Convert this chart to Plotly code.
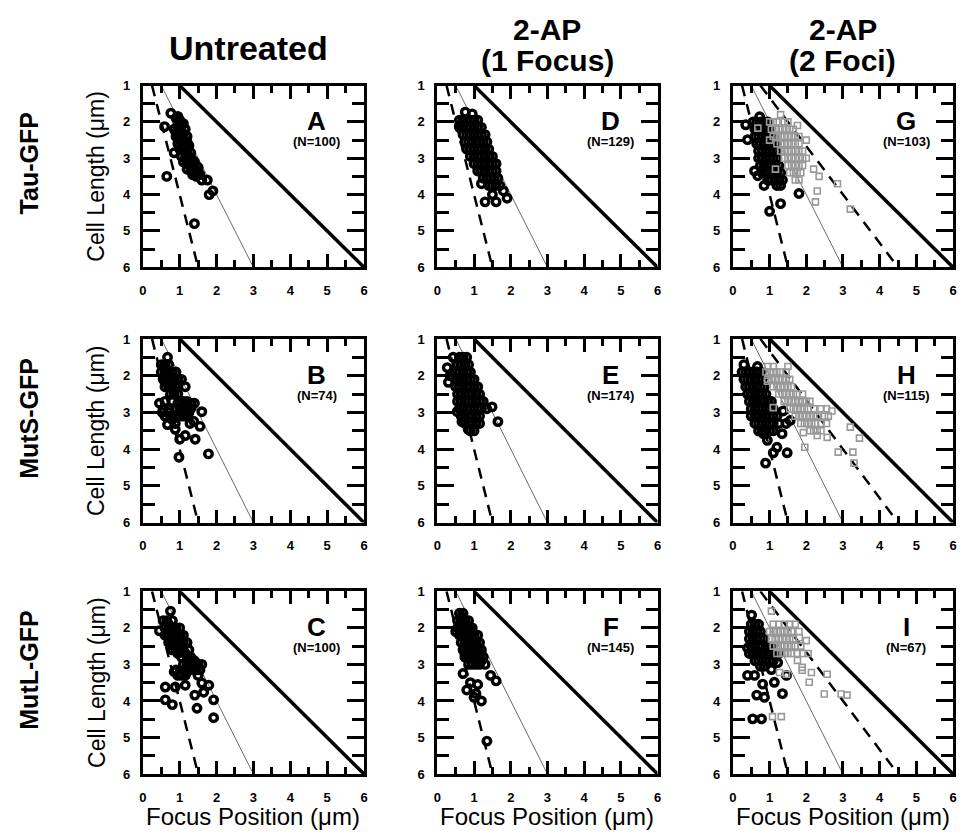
import plotly.graph_objects as go

# ---------------- data ----------------
conditions = ["Untreated", "2-AP", "2-AP"]
condition_sub = ["", "(1 Focus)", "(2 Foci)"]
strains = ["Tau-GFP", "MutS-GFP", "MutL-GFP"]
panel_letters = [["A", "D", "G"], ["B", "E", "H"], ["C", "F", "I"]]
panel_n = [[100, 129, 103], [74, 174, 115], [100, 145, 67]]

x_ticks = [0, 1, 2, 3, 4, 5, 6]
y_ticks = [1, 2, 3, 4, 5, 6]

# model lines: focus position = fraction * cell length
line_cell_length = [1, 6]
pole_fraction = 1.0
mid_fraction = 0.5
quarter_fractions_one = [0.25]
quarter_fractions_two = [0.25, 0.75]

# (focus position um, cell length um)
tau_untreated = [
    (0.76, 1.76), (0.59, 2.13), (0.9, 1.9), (1.0, 1.95), (1.1, 2.05), (0.85, 2.2), (0.95, 2.15),
    (1.05, 2.25), (1.15, 2.2), (0.9, 2.4), (1.0, 2.35), (1.1, 2.45), (1.2, 2.4), (0.95, 2.6),
    (1.05, 2.55), (1.15, 2.6), (1.25, 2.65), (1.0, 2.75), (1.1, 2.8), (1.2, 2.75), (1.3, 2.85),
    (0.85, 2.85), (1.05, 2.95), (1.15, 3.0), (1.25, 2.95), (1.35, 3.05), (1.1, 3.1), (1.2, 3.15),
    (1.3, 3.2), (1.4, 3.1), (1.2, 3.3), (1.3, 3.35), (1.4, 3.3), (1.5, 3.25), (1.35, 3.45),
    (1.45, 3.5), (1.55, 3.45), (1.6, 3.6), (1.75, 3.6), (1.9, 3.9), (1.8, 4.0), (0.65, 3.5),
    (1.4, 4.8), (0.95, 2.05), (1.2, 2.55),
    (0.95, 1.85), (1.05, 2.1), (0.9, 2.3), (1.0, 2.5), (1.1, 2.55), (1.15, 2.7), (1.2, 2.9),
    (1.3, 3.0), (1.25, 3.1), (1.35, 3.25), (1.45, 3.4), (1.5, 3.35), (1.1, 2.35), (1.2, 2.65),
    (1.05, 2.65),
]
tau_one_focus = [
    (0.76, 1.73), (0.95, 1.78), (0.6, 1.95), (0.7, 1.95), (0.8, 1.95), (0.9, 1.95), (1.0, 1.95),
    (1.1, 1.95), (0.6, 2.15), (0.7, 2.15), (0.8, 2.15), (0.9, 2.15), (1.0, 2.15), (1.1, 2.15),
    (1.2, 2.15), (0.7, 2.35), (0.8, 2.35), (0.9, 2.35), (1.0, 2.35), (1.1, 2.35), (1.2, 2.35),
    (1.3, 2.35), (0.75, 2.55), (0.85, 2.55), (0.95, 2.55), (1.05, 2.55), (1.15, 2.55), (1.25, 2.55),
    (1.35, 2.55), (0.8, 2.75), (0.9, 2.75), (1.0, 2.75), (1.1, 2.75), (1.2, 2.75), (1.3, 2.75),
    (1.4, 2.75), (0.9, 2.95), (1.0, 2.95), (1.1, 2.95), (1.2, 2.95), (1.3, 2.95), (1.4, 2.95),
    (1.5, 2.95), (1.0, 3.15), (1.1, 3.15), (1.2, 3.15), (1.3, 3.15), (1.4, 3.15), (1.5, 3.15),
    (1.6, 3.15), (1.1, 3.35), (1.2, 3.35), (1.3, 3.35), (1.4, 3.35), (1.5, 3.35), (1.6, 3.35),
    (1.25, 3.55), (1.35, 3.55), (1.45, 3.55), (1.55, 3.55), (1.65, 3.55), (1.4, 3.75), (1.5, 3.75),
    (1.6, 3.75), (1.7, 3.75), (1.3, 4.2), (1.6, 4.2), (1.9, 4.1), (1.8, 3.9), (1.2, 3.7),
    (0.6, 2.1), (1.5, 4.0),
]
tau_two_foci_first = [
    (0.73, 1.86), (0.35, 2.08), (0.4, 2.49), (0.59, 3.35), (0.68, 3.48), (0.85, 3.75), (1.0, 4.46),
    (1.3, 4.25), (1.8, 3.97),
    (0.55, 2.0), (0.65, 2.0), (0.75, 2.0), (0.85, 2.0), (0.95, 2.0),
    (0.6, 2.2), (0.7, 2.2), (0.8, 2.2), (0.9, 2.2), (1.0, 2.2),
    (0.6, 2.4), (0.7, 2.4), (0.8, 2.4), (0.9, 2.4), (1.0, 2.4), (1.1, 2.4),
    (0.65, 2.6), (0.75, 2.6), (0.85, 2.6), (0.95, 2.6), (1.05, 2.6), (1.15, 2.6),
    (0.7, 2.8), (0.8, 2.8), (0.9, 2.8), (1.0, 2.8), (1.1, 2.8), (1.2, 2.8),
    (0.7, 3.0), (0.8, 3.0), (0.9, 3.0), (1.0, 3.0), (1.1, 3.0), (1.2, 3.0),
    (0.75, 3.2), (0.85, 3.2), (0.95, 3.2), (1.05, 3.2), (1.15, 3.2), (1.25, 3.2),
    (0.8, 3.4), (0.9, 3.4), (1.0, 3.4), (1.1, 3.4), (1.2, 3.4), (1.3, 3.4),
    (0.95, 3.6), (1.05, 3.6), (1.15, 3.6), (1.25, 3.6), (1.35, 3.6), (1.2, 3.75), (1.3, 3.75),
]
tau_two_foci_second = [
    (1.3, 1.8), (1.0, 2.0), (1.1, 2.0), (1.2, 2.0), (1.4, 2.0), (1.5, 2.0), (1.76, 2.1),
    (1.05, 2.2), (1.15, 2.2), (1.25, 2.2), (1.35, 2.2), (1.45, 2.2), (1.55, 2.2), (1.65, 2.2),
    (1.1, 2.4), (1.2, 2.4), (1.3, 2.4), (1.4, 2.4), (1.5, 2.4), (1.6, 2.4), (1.7, 2.4), (1.8, 2.4),
    (1.2, 2.6), (1.3, 2.6), (1.4, 2.6), (1.5, 2.6), (1.6, 2.6), (1.7, 2.6), (1.8, 2.6), (2.0, 2.5),
    (1.3, 2.8), (1.4, 2.8), (1.5, 2.8), (1.6, 2.8), (1.7, 2.8), (1.8, 2.8), (1.9, 2.8),
    (1.4, 3.0), (1.5, 3.0), (1.6, 3.0), (1.7, 3.0), (1.8, 3.0), (1.9, 3.0), (2.0, 3.0),
    (1.5, 3.2), (1.6, 3.2), (1.7, 3.2), (1.8, 3.2), (1.9, 3.2), (2.2, 3.3),
    (1.55, 3.4), (1.65, 3.4), (1.75, 3.4), (1.85, 3.4), (2.35, 3.5), (1.7, 3.6), (1.8, 3.6),
    (2.85, 3.7), (0.68, 2.17), (1.0, 2.5), (1.16, 3.3), (2.3, 3.9), (2.25, 4.2), (3.2, 4.4),
]
muts_untreated = [
    (0.67, 1.5), (0.5, 1.7), (0.6, 1.7), (0.7, 1.7), (0.5, 1.9), (0.6, 1.9), (0.7, 1.9), (0.8, 1.9),
    (0.9, 1.9), (0.55, 2.1), (0.65, 2.1), (0.75, 2.1), (0.85, 2.1), (0.95, 2.1), (1.05, 2.1),
    (0.6, 2.3), (0.7, 2.3), (0.8, 2.3), (0.9, 2.3), (1.15, 2.3), (0.75, 2.5), (0.85, 2.5), (0.95, 2.5),
    (0.45, 2.75), (0.6, 2.7), (0.8, 2.7), (1.0, 2.7), (1.1, 2.7), (1.2, 2.7), (1.3, 2.75), (1.4, 2.75),
    (0.55, 2.9), (0.7, 2.9), (0.9, 2.9), (1.0, 2.9), (1.1, 2.9), (1.2, 2.9), (1.3, 2.9), (1.6, 2.98),
    (0.6, 3.1), (0.75, 3.1), (1.0, 3.1), (1.1, 3.1), (1.2, 3.1), (0.67, 3.33), (0.88, 3.3),
    (1.28, 3.3), (1.38, 3.24), (1.55, 3.38), (0.53, 3.0), (0.88, 3.46), (1.0, 3.73), (1.42, 3.73),
    (0.98, 4.22), (1.78, 4.13), (1.15, 3.63),
    (0.6, 1.8), (0.75, 2.0), (0.7, 2.2), (0.85, 2.4), (0.95, 2.75), (1.15, 2.8), (1.05, 3.0),
    (0.7, 3.0), (0.8, 3.2), (1.25, 3.0),
]
muts_one_focus = [
    (0.43, 1.5), (0.6, 1.5), (0.7, 1.5), (0.8, 1.5), (0.55, 1.7), (0.65, 1.7), (0.75, 1.7), (0.85, 1.7),
    (0.5, 1.9), (0.6, 1.9), (0.7, 1.9), (0.8, 1.9), (0.9, 1.9),
    (0.5, 2.1), (0.6, 2.1), (0.7, 2.1), (0.8, 2.1), (0.9, 2.1), (1.0, 2.1),
    (0.5, 2.3), (0.6, 2.3), (0.7, 2.3), (0.8, 2.3), (0.9, 2.3), (1.0, 2.3), (1.1, 2.3),
    (0.55, 2.5), (0.65, 2.5), (0.75, 2.5), (0.85, 2.5), (0.95, 2.5), (1.05, 2.5), (1.15, 2.5),
    (0.55, 2.7), (0.65, 2.7), (0.75, 2.7), (0.85, 2.7), (0.95, 2.7), (1.05, 2.7), (1.15, 2.7), (1.25, 2.7),
    (0.6, 2.9), (0.7, 2.9), (0.8, 2.9), (0.9, 2.9), (1.0, 2.9), (1.1, 2.9), (1.2, 2.9), (1.35, 2.9),
    (0.65, 3.1), (0.75, 3.1), (0.85, 3.1), (0.95, 3.1), (1.05, 3.1), (1.15, 3.1),
    (0.75, 3.3), (0.85, 3.3), (0.95, 3.3), (1.05, 3.3), (1.15, 3.3), (0.9, 3.5), (1.0, 3.5),
    (0.27, 1.78), (0.3, 2.18), (0.54, 2.98), (0.67, 3.25), (0.84, 3.46), (1.65, 3.25), (1.49, 2.85),
    (0.35, 2.0),
]
muts_two_foci_first = [
    (0.3, 1.7), (0.67, 1.75), (0.25, 1.9), (0.35, 1.9), (0.45, 1.9), (0.55, 1.9), (0.65, 1.9), (0.75, 1.9),
    (0.3, 2.1), (0.4, 2.1), (0.5, 2.1), (0.6, 2.1), (0.7, 2.1), (0.8, 2.1),
    (0.35, 2.3), (0.45, 2.3), (0.55, 2.3), (0.65, 2.3), (0.75, 2.3), (0.85, 2.3),
    (0.4, 2.5), (0.5, 2.5), (0.6, 2.5), (0.7, 2.5), (0.8, 2.5), (0.9, 2.5),
    (0.45, 2.7), (0.55, 2.7), (0.65, 2.7), (0.75, 2.7), (0.85, 2.7), (0.95, 2.7), (1.05, 2.7),
    (0.5, 2.9), (0.6, 2.9), (0.7, 2.9), (0.8, 2.9), (0.9, 2.9), (1.0, 2.9), (1.1, 2.9),
    (0.5, 3.1), (0.6, 3.1), (0.7, 3.1), (0.8, 3.1), (0.9, 3.1), (1.0, 3.1), (1.1, 3.1), (1.2, 3.1),
    (0.6, 3.3), (0.7, 3.3), (0.8, 3.3), (0.9, 3.3), (1.0, 3.3), (1.1, 3.3), (1.25, 3.3), (1.45, 3.3),
    (0.7, 3.5), (0.8, 3.5), (0.9, 3.5), (1.0, 3.5), (1.1, 3.5),
    (0.83, 3.58), (0.94, 3.76), (1.34, 3.58), (1.2, 3.95), (1.1, 4.1), (1.48, 4.1), (0.89, 4.38),
    (1.56, 3.22), (1.37, 2.96),
]
muts_two_foci_second = [
    (0.95, 1.75), (1.1, 1.75), (1.5, 1.75), (0.9, 1.9), (1.0, 1.9), (1.1, 1.9), (1.2, 1.9), (1.3, 1.9),
    (1.45, 1.9), (0.95, 2.1), (1.05, 2.1), (1.15, 2.1), (1.25, 2.1), (1.35, 2.1), (1.45, 2.1), (1.55, 2.1),
    (1.1, 2.3), (1.2, 2.3), (1.3, 2.3), (1.4, 2.3), (1.5, 2.3), (1.6, 2.3),
    (1.25, 2.5), (1.35, 2.5), (1.45, 2.5), (1.55, 2.5), (1.65, 2.5), (1.75, 2.5), (1.9, 2.5),
    (1.4, 2.7), (1.5, 2.7), (1.6, 2.7), (1.7, 2.7), (1.8, 2.7), (1.9, 2.7), (2.0, 2.7), (2.1, 2.7),
    (1.55, 2.9), (1.65, 2.9), (1.75, 2.9), (1.85, 2.9), (1.95, 2.9), (2.05, 2.9), (2.2, 2.9), (2.4, 2.9),
    (2.55, 2.9), (1.7, 3.1), (1.8, 3.1), (1.9, 3.1), (2.0, 3.1), (2.1, 3.1), (2.2, 3.1), (2.3, 3.1),
    (2.5, 3.1), (2.6, 3.1), (1.85, 3.3), (1.95, 3.3), (2.05, 3.3), (2.15, 3.3), (2.25, 3.3), (2.4, 3.3),
    (2.55, 3.3), (2.1, 3.5), (2.2, 3.5), (2.3, 3.5), (2.4, 3.5),
    (0.94, 2.15), (1.1, 2.87), (1.92, 3.55), (2.3, 3.63), (2.57, 3.68), (1.96, 3.95), (2.87, 4.08),
    (3.2, 3.4), (3.45, 3.7), (3.27, 4.08), (3.3, 4.38), (2.7, 2.96),
]
mutl_untreated = [
    (0.75, 1.54), (0.45, 2.08), (0.55, 1.8), (0.65, 1.8), (0.8, 1.8),
    (0.6, 2.0), (0.7, 2.0), (0.8, 2.0), (0.9, 2.0), (1.0, 2.0),
    (0.6, 2.2), (0.7, 2.2), (0.8, 2.2), (0.9, 2.2), (1.0, 2.2), (1.1, 2.2),
    (0.7, 2.4), (0.8, 2.4), (0.9, 2.4), (1.0, 2.4), (1.1, 2.4), (1.2, 2.4),
    (0.8, 2.6), (0.9, 2.6), (1.0, 2.6), (1.1, 2.6), (1.25, 2.6), (1.05, 2.8), (1.2, 2.8), (1.3, 2.8),
    (1.1, 3.0), (1.2, 3.0), (1.3, 3.0), (1.4, 3.0), (1.5, 3.0), (1.6, 3.0),
    (0.9, 3.15), (1.35, 3.15), (1.45, 3.15), (1.55, 3.15), (0.95, 3.3), (1.05, 3.3), (1.15, 3.3), (1.5, 3.3),
    (0.61, 3.62), (0.88, 3.62), (0.61, 3.97), (0.8, 4.1), (1.15, 3.57), (1.41, 3.84), (1.47, 4.2),
    (1.65, 3.76), (1.6, 3.51), (1.79, 3.57), (1.92, 3.97), (1.92, 4.46), (0.85, 3.2),
    (0.7, 1.9), (0.85, 2.1), (0.75, 2.3), (0.95, 2.3), (0.85, 2.5), (1.05, 2.5), (1.15, 2.7),
    (0.95, 2.7), (1.25, 2.9), (1.4, 2.9), (1.3, 3.1), (1.45, 3.05), (1.0, 3.25), (1.2, 3.2),
]
mutl_one_focus = [
    (0.6, 1.6), (0.7, 1.6), (0.55, 1.8), (0.65, 1.8), (0.75, 1.8), (0.85, 1.8),
    (0.55, 2.0), (0.65, 2.0), (0.75, 2.0), (0.85, 2.0), (0.95, 2.0),
    (0.6, 2.2), (0.7, 2.2), (0.8, 2.2), (0.9, 2.2), (1.0, 2.2), (1.1, 2.2),
    (0.65, 2.4), (0.75, 2.4), (0.85, 2.4), (0.95, 2.4), (1.05, 2.4), (1.15, 2.4),
    (0.7, 2.6), (0.8, 2.6), (0.9, 2.6), (1.0, 2.6), (1.1, 2.6), (1.2, 2.6),
    (0.75, 2.8), (0.85, 2.8), (0.95, 2.8), (1.05, 2.8), (1.15, 2.8), (1.25, 2.8),
    (0.85, 3.0), (0.95, 3.0), (1.05, 3.0), (1.15, 3.0), (1.3, 3.0),
    (0.7, 3.25), (0.9, 3.5), (1.05, 3.8), (1.2, 4.0), (0.8, 3.7), (1.1, 3.55), (1.45, 3.3),
    (1.6, 3.45), (1.35, 5.1), (1.0, 3.9), (0.5, 2.1),
    (0.65, 1.7), (0.75, 1.9), (0.7, 2.1), (0.9, 2.1), (0.8, 2.3), (1.0, 2.3), (0.85, 2.5),
    (1.05, 2.5), (0.95, 2.7), (1.15, 2.7), (1.05, 2.9), (1.2, 2.9), (0.75, 2.7),
]
mutl_two_foci_first = [
    (0.51, 1.65), (0.5, 1.9), (0.6, 1.9), (0.7, 1.9), (0.45, 2.1), (0.55, 2.1), (0.65, 2.1), (0.75, 2.1),
    (0.45, 2.3), (0.55, 2.3), (0.65, 2.3), (0.75, 2.3), (0.85, 2.3),
    (0.4, 2.55), (0.5, 2.5), (0.6, 2.5), (0.7, 2.5), (0.8, 2.5), (0.95, 2.5), (1.05, 2.5),
    (0.45, 2.7), (0.55, 2.7), (0.65, 2.7), (0.75, 2.7), (0.85, 2.7), (0.95, 2.7), (1.05, 2.7), (1.15, 2.7),
    (1.25, 2.7), (0.6, 2.9), (0.7, 2.9), (0.8, 2.9), (0.9, 2.9), (1.0, 2.9), (1.1, 2.9),
    (0.75, 3.05), (0.85, 3.05), (1.05, 3.14), (1.22, 2.95),
    (0.4, 3.3), (0.59, 3.3), (0.81, 3.54), (1.13, 3.49), (0.65, 3.84), (0.86, 3.9), (1.35, 3.8),
    (0.54, 4.49), (0.78, 4.49), (1.46, 3.3),
]
mutl_two_foci_second = [
    (1.05, 1.54), (1.1, 1.9), (1.25, 1.9), (1.4, 1.9), (1.55, 1.9), (1.7, 1.9),
    (1.0, 2.1), (1.1, 2.1), (1.2, 2.1), (1.3, 2.1), (1.4, 2.1), (1.5, 2.1), (1.6, 2.1), (1.8, 2.1),
    (1.05, 2.3), (1.15, 2.3), (1.25, 2.3), (1.35, 2.3), (1.45, 2.3), (1.55, 2.3), (1.65, 2.3), (1.81, 2.27),
    (2.0, 2.35), (1.1, 2.5), (1.2, 2.5), (1.3, 2.5), (1.4, 2.5), (1.5, 2.5), (1.6, 2.5), (1.7, 2.5),
    (1.85, 2.5), (1.2, 2.7), (1.3, 2.7), (1.4, 2.7), (1.5, 2.7), (1.6, 2.7), (1.75, 2.7), (1.9, 2.7),
    (2.05, 2.7), (1.89, 3.16), (2.14, 3.22), (2.08, 3.49), (2.57, 3.27), (2.49, 3.81), (2.95, 3.81),
    (3.11, 3.84), (1.27, 3.22), (1.46, 3.27), (1.32, 4.43), (1.08, 4.43), (1.76, 2.89), (1.89, 3.08),
]

first_focus = [
    [tau_untreated, tau_one_focus, tau_two_foci_first],
    [muts_untreated, muts_one_focus, muts_two_foci_first],
    [mutl_untreated, mutl_one_focus, mutl_two_foci_first],
]
second_focus = [
    [None, None, tau_two_foci_second],
    [None, None, muts_two_foci_second],
    [None, None, mutl_two_foci_second],
]

# ---------------- layout ----------------
W, H = 963, 838
col_px = [(140, 363), (437, 659), (735, 957)]
row_px = [(80, 265), (338, 525), (595, 781)]
FONT = "Liberation Sans, Arial, Helvetica, sans-serif"

fig = go.Figure()
annotations = []
layout_axes = {}


def paper_text(text, px, py, size, bold=False, angle=0):
    f = dict(family=FONT, size=size, color="black")
    if bold:
        f["weight"] = "bold"
    return dict(text=text, x=px / W, y=1 - py / H, xref="paper", yref="paper",
                xanchor="center", yanchor="middle", textangle=angle, showarrow=False, font=f)


for r in range(3):
    for c in range(3):
        k = r * 3 + c + 1
        sfx = "" if k == 1 else str(k)
        xa, ya = "x" + sfx, "y" + sfx
        x0, x1 = col_px[c]
        y0, y1 = row_px[r]
        common = dict(
            showline=True, linewidth=3, linecolor="black", mirror="ticks",
            ticks="inside", tickwidth=2.5, tickcolor="black",
            showgrid=False, zeroline=False,
            tickfont=dict(family=FONT, size=13, color="black", weight="bold"),
        )
        layout_axes["xaxis" + sfx] = dict(
            common, domain=[x0 / W, x1 / W], anchor=ya, range=[0, 6],
            tickvals=x_ticks, ticklen=13, ticklabelstandoff=9,
            minor=dict(ticks="inside", ticklen=7, tickwidth=2.5, tickcolor="black", dtick=0.5, showgrid=False),
        )
        layout_axes["yaxis" + sfx] = dict(
            common, domain=[1 - y1 / H, 1 - y0 / H], anchor=xa, range=[6, 1],
            tickvals=y_ticks, ticklen=17, ticklabelstandoff=7,
            minor=dict(ticks="inside", ticklen=12, tickwidth=2.5, tickcolor="black", dtick=0.5, showgrid=False),
        )

        fracs = quarter_fractions_two if c == 2 else quarter_fractions_one
        fig.add_trace(go.Scatter(
            x=[pole_fraction * L for L in line_cell_length], y=line_cell_length,
            mode="lines", line=dict(color="black", width=3.5), xaxis=xa, yaxis=ya, showlegend=False))
        fig.add_trace(go.Scatter(
            x=[mid_fraction * L for L in line_cell_length], y=line_cell_length,
            mode="lines", line=dict(color="#444", width=0.8), xaxis=xa, yaxis=ya, showlegend=False))
        for f in fracs:
            fig.add_trace(go.Scatter(
                x=[f * L for L in line_cell_length], y=line_cell_length,
                mode="lines", line=dict(color="black", width=2.5, dash="11px,8px"),
                xaxis=xa, yaxis=ya, showlegend=False))

        pts = first_focus[r][c]
        fig.add_trace(go.Scatter(
            x=[p[0] for p in pts], y=[p[1] for p in pts], mode="markers",
            marker=dict(symbol="circle-open", size=7.5, color="black", line=dict(width=3.4, color="black")),
            xaxis=xa, yaxis=ya, showlegend=False))
        pts2 = second_focus[r][c]
        if pts2:
            fig.add_trace(go.Scatter(
                x=[p[0] for p in pts2], y=[p[1] for p in pts2], mode="markers",
                marker=dict(symbol="square-open", size=6, color="#999999", line=dict(width=1.6, color="#999999")),
                xaxis=xa, yaxis=ya, showlegend=False))

        annotations.append(dict(
            text=panel_letters[r][c], x=4.72, y=1.97, xref=xa, yref=ya, showarrow=False,
            xanchor="center", yanchor="middle",
            font=dict(family=FONT, size=26, color="black", weight="bold")))
        annotations.append(dict(
            text="(N=%d)" % panel_n[r][c], x=4.72, y=2.55, xref=xa, yref=ya, showarrow=False,
            xanchor="center", yanchor="middle",
            font=dict(family=FONT, size=13, color="black", weight="bold")))

col_center = [(a + b) / 2 for a, b in col_px]
for c in range(3):
    if condition_sub[c]:
        annotations.append(paper_text(conditions[c], col_center[c], 23, 30, bold=True))
        annotations.append(paper_text(condition_sub[c], col_center[c], 54, 30, bold=True))
    else:
        annotations.append(paper_text(conditions[c], col_center[c] - 5, 42, 34, bold=True))

for r in range(3):
    yc = (row_px[r][0] + row_px[r][1]) / 2
    annotations.append(paper_text(strains[r], 25, yc - 13, 25, bold=True, angle=-90))
    annotations.append(paper_text("Cell Length (μm)", 93, yc, 23, angle=-90))

for c in range(3):
    annotations.append(paper_text("Focus Position (μm)", col_center[c], 824, 24))

fig.update_layout(
    width=W, height=H, margin=dict(l=0, r=0, t=0, b=0),
    paper_bgcolor="white", plot_bgcolor="white",
    annotations=annotations, showlegend=False, **layout_axes,
)

fig.write_html("out.html", config={"displayModeBar": False},
               post_script="document.body.style.margin='0';document.body.style.overflow='hidden';")
